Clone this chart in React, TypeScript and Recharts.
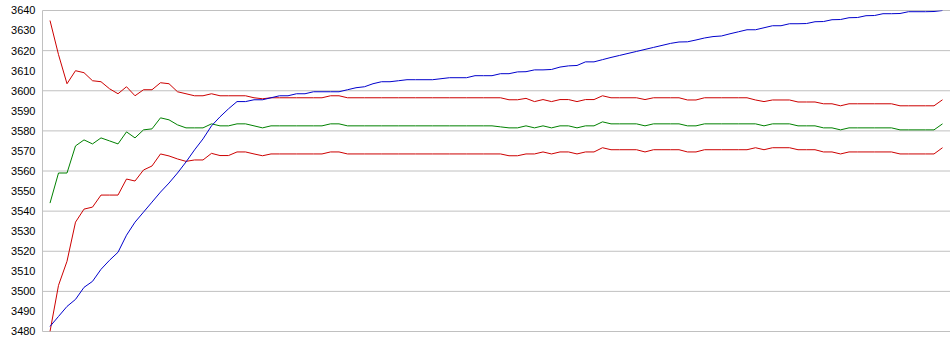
import { CartesianGrid, Line, LineChart, XAxis, YAxis } from "recharts";

// y axis ticks, every 10
const yTicks = [3480, 3490, 3500, 3510, 3520, 3530, 3540, 3550, 3560, 3570, 3580, 3590, 3600, 3610, 3620, 3630, 3640];

// upper band (red)
const upperBand = [
  3635, 3618, 3603.5, 3610, 3609, 3605, 3604.5, 3601, 3598.5, 3602,
  3597.5, 3600.5, 3600.5, 3604, 3603.5, 3599.5, 3598.5, 3597.5, 3597.5, 3598.5,
  3597.5, 3597.5, 3597.5, 3597.5, 3596.5, 3596, 3596.5, 3596.5, 3596.5, 3596.5,
  3596.5, 3596.5, 3596.5, 3597.5, 3597.5, 3596.5, 3596.5, 3596.5, 3596.5, 3596.5,
  3596.5, 3596.5, 3596.5, 3596.5, 3596.5, 3596.5, 3596.5, 3596.5, 3596.5, 3596.5,
  3596.5, 3596.5, 3596.5, 3596.5, 3595.5, 3595.5, 3596.2, 3594.6, 3595.6, 3594.6,
  3595.6, 3595.6, 3594.6, 3595.6, 3595.6, 3597.5, 3596.5, 3596.5, 3596.5, 3596.5,
  3595.6, 3596.5, 3596.5, 3596.5, 3596.5, 3595.4, 3595.4, 3596.5, 3596.5, 3596.5,
  3596.5, 3596.5, 3596.5, 3595.4, 3594.6, 3595.4, 3595.4, 3595.4, 3594.4, 3594.4,
  3594.4, 3593.5, 3593.5, 3592.5, 3593.5, 3593.5, 3593.5, 3593.5, 3593.5, 3593.5,
  3592.5, 3592.5, 3592.5, 3592.5, 3592.5, 3595.5,
];

// middle line (green)
const middle = [
  3544, 3559, 3559, 3572.5, 3575.5, 3573.5, 3576.5, 3575, 3573.5, 3579.5,
  3576.5, 3580.5, 3581, 3586.5, 3585.5, 3583, 3581.5, 3581.5, 3581.5, 3583.5,
  3582.5, 3582.5, 3583.5, 3583.5, 3582.5, 3581.5, 3582.5, 3582.5, 3582.5, 3582.5,
  3582.5, 3582.5, 3582.5, 3583.5, 3583.5, 3582.5, 3582.5, 3582.5, 3582.5, 3582.5,
  3582.5, 3582.5, 3582.5, 3582.5, 3582.5, 3582.5, 3582.5, 3582.5, 3582.5, 3582.5,
  3582.5, 3582.5, 3582.5, 3582, 3581.5, 3581.5, 3582.5, 3581.5, 3582.5, 3581.5,
  3582.5, 3582.5, 3581.5, 3582.5, 3582.5, 3584.5, 3583.5, 3583.5, 3583.5, 3583.5,
  3582.5, 3583.5, 3583.5, 3583.5, 3583.5, 3582.5, 3582.5, 3583.5, 3583.5, 3583.5,
  3583.5, 3583.5, 3583.5, 3583.5, 3582.5, 3583.5, 3583.5, 3583.5, 3582.5, 3582.5,
  3582.5, 3581.5, 3581.5, 3580.5, 3581.5, 3581.5, 3581.5, 3581.5, 3581.5, 3581.5,
  3580.5, 3580.5, 3580.5, 3580.5, 3580.5, 3583.5,
];

// lower band (red)
const lowerBand = [
  3480, 3503, 3515, 3534.5, 3541, 3542, 3548, 3548, 3548, 3556,
  3555, 3560.5, 3562.5, 3568.5, 3567.5, 3566, 3564.8, 3565.5, 3565.5, 3568.8,
  3567.7, 3567.7, 3569.5, 3569.5, 3568.5, 3567.6, 3568.5, 3568.5, 3568.5, 3568.5,
  3568.5, 3568.5, 3568.5, 3569.5, 3569.5, 3568.5, 3568.5, 3568.5, 3568.5, 3568.5,
  3568.5, 3568.5, 3568.5, 3568.5, 3568.5, 3568.5, 3568.5, 3568.5, 3568.5, 3568.5,
  3568.5, 3568.5, 3568.5, 3568.5, 3567.6, 3567.6, 3568.5, 3568.5, 3569.5, 3568.5,
  3569.5, 3569.5, 3568.5, 3569.5, 3569.5, 3571.6, 3570.6, 3570.6, 3570.6, 3570.6,
  3569.5, 3570.6, 3570.6, 3570.6, 3570.6, 3569.5, 3569.5, 3570.6, 3570.6, 3570.6,
  3570.6, 3570.6, 3570.6, 3571.6, 3570.6, 3571.6, 3571.6, 3571.6, 3570.6, 3570.6,
  3570.6, 3569.5, 3569.5, 3568.5, 3569.5, 3569.5, 3569.5, 3569.5, 3569.5, 3569.5,
  3568.5, 3568.5, 3568.5, 3568.5, 3568.5, 3571.6,
];

// running level (blue)
const level = [
  3482.5, 3487.5, 3492.5, 3496, 3502, 3505, 3511, 3515.5, 3519.5, 3528,
  3534.5, 3539.5, 3544.5, 3549.5, 3554, 3559, 3564.5, 3570.5, 3576, 3582.5,
  3587, 3591, 3594.6, 3594.6, 3595.5, 3595.5, 3596.5, 3597.5, 3597.5, 3598.5,
  3598.5, 3599.5, 3599.5, 3599.5, 3599.5, 3600.5, 3601.5, 3602, 3603.5, 3604.5,
  3604.5, 3605, 3605.5, 3605.5, 3605.5, 3605.5, 3606, 3606.5, 3606.5, 3606.5,
  3607.5, 3607.5, 3607.5, 3608.5, 3608.5, 3609.4, 3609.5, 3610.4, 3610.4, 3610.6,
  3611.8, 3612.4, 3612.6, 3614.4, 3614.4, 3615.5, 3616.6, 3617.6, 3618.6, 3619.6,
  3620.6, 3621.6, 3622.6, 3623.6, 3624.3, 3624.4, 3625.3, 3626.3, 3627, 3627.3,
  3628.4, 3629.4, 3630.4, 3630.4, 3631.4, 3632.4, 3632.4, 3633.4, 3633.4, 3633.5,
  3634.4, 3634.5, 3635.4, 3635.5, 3636.4, 3636.5, 3637.4, 3637.5, 3638.4, 3638.4,
  3638.5, 3639.4, 3639.4, 3639.4, 3639.5, 3640,
];

const data = level.map((v, i) => ({
  idx: i + 1,
  upper: upperBand[i],
  middle: middle[i],
  lower: lowerBand[i],
  level: v,
}));

export default function App() {
  return (
    <div style={{ position: "absolute", left: 0, top: 0, background: "#fff" }}>
      <LineChart width={950} height={355} data={data} margin={{ top: 10.5, right: 0, left: 0, bottom: 23.5 }}>
        <CartesianGrid vertical={false} stroke="#c0c0c0" />
        <XAxis dataKey="idx" hide padding={{ left: 7.5, right: 7.5 }} />
        <YAxis
          domain={[3480, 3640]}
          ticks={yTicks}
          allowDataOverflow
          width={42.5}
          tickLine={false}
          tickSize={0}
          tickMargin={7}
          axisLine={{ stroke: "#c0c0c0" }}
          tick={{ fill: "#000", fontSize: 11, fontFamily: "Liberation Sans, Arial, sans-serif" }}
        />
        <Line type="linear" dataKey="upper" stroke="#cc0000" strokeWidth={1} dot={false} isAnimationActive={false} />
        <Line type="linear" dataKey="middle" stroke="#008000" strokeWidth={1} dot={false} isAnimationActive={false} />
        <Line type="linear" dataKey="lower" stroke="#cc0000" strokeWidth={1} dot={false} isAnimationActive={false} />
        <Line type="linear" dataKey="level" stroke="#0000cc" strokeWidth={1} dot={false} isAnimationActive={false} />
      </LineChart>
    </div>
  );
}
